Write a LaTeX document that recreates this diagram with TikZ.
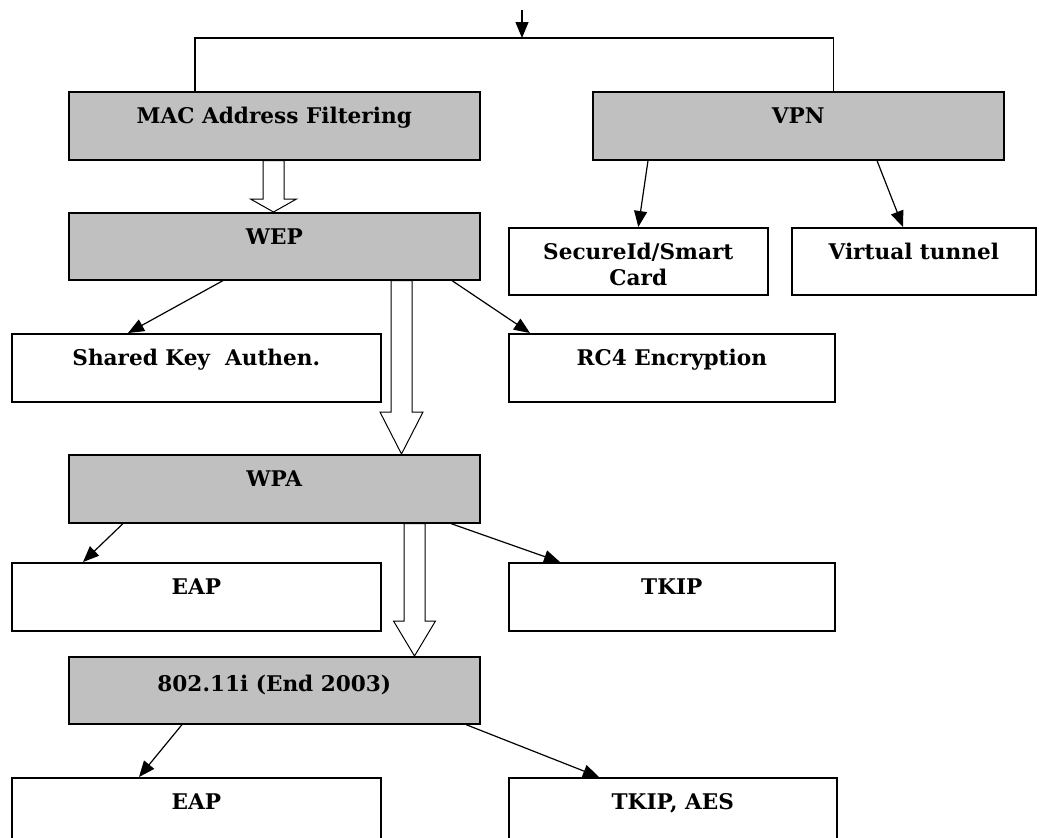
\documentclass[tikz,border=0pt]{standalone}
\usepackage{fontspec}
\setmainfont{DejaVu Serif}
\usetikzlibrary{arrows.meta, calc}
\definecolor{boxgray}{HTML}{C0C0C0}

% hollow block arrow: from node, to node, x coordinate, shaft half, head half, head length
\newcommand{\hollowarrow}[6]{%
  \draw[hollow] let \p1=(#1.south -| #3), \p2=(#2.north -| #3) in
    (\x1-#4,\y1) -- (\x1-#4,\y2+#6) -- (\x1-#5,\y2+#6) -- (\p2)
    -- (\x1+#5,\y2+#6) -- (\x1+#4,\y2+#6) -- (\x1+#4,\y1) -- cycle;}

\begin{document}
\begin{tikzpicture}[x=0.5pt, y=-0.5pt,
      box/.style={draw, line width=0.8pt, anchor=north west, inner xsep=0pt,
                  inner ysep=0pt, text height=15.75pt, text depth=18.25pt,
                  align=center, font=\bfseries\fontsize{10.8}{13}\selectfont},
      gbox/.style={box, fill=boxgray},
      arr/.style={-{Triangle[length=8pt, width=6.5pt]}, line width=0.6pt},
      hollow/.style={draw, fill=white, line width=0.5pt, line join=miter},
    ]
    \useasboundingbox[fill=white] (0,0) rectangle (1039,837);

    % -- top row --
    \node[gbox, minimum width=205.5pt] (mac) at (68,91) {MAC Address Filtering};
    \node[gbox, minimum width=205.5pt] (vpn) at (592,91) {VPN};
    \coordinate (in) at (522,10);
    \coordinate (split) at (522,38);
    \draw[arr] (in) -- (split);
    \draw[line width=0.6pt] (split) -| ([xshift=63.5pt]mac.north west);
    \draw[line width=0.6pt] (split) -| ([xshift=17.75pt]vpn.north);

    % -- VPN branch --
    \node[box, minimum width=129.5pt, text height=28.75pt, text depth=4.75pt]
          (secure) at (508,227) {SecureId/Smart\\ Card};
    \node[box, minimum width=122pt, text depth=17.75pt] (tunnel) at (791,227) {Virtual tunnel};
    \draw[arr] ([xshift=28pt]vpn.south west) -- (secure.north);
    \draw[arr] ([xshift=142.5pt]vpn.south west) -- ([xshift=56pt]tunnel.north west);

    % -- WEP --
    \node[gbox, minimum width=205.5pt, text depth=17.75pt] (wep) at (68,212) {WEP};
    \coordinate (c1) at (273.5,0);
    \hollowarrow{mac}{wep}{c1}{5.25pt}{11.5pt}{6.5pt}
    \node[box, minimum width=184.5pt] (shared) at (11,333) {Shared Key~ Authen.};
    \node[box, minimum width=163pt] (rc4) at (508,333) {RC4 Encryption};
    \draw[arr] ([xshift=77.5pt]wep.south west) -- ([xshift=58.5pt]shared.north west);
    \draw[arr] ([xshift=192pt]wep.south west) -- ([xshift=11pt]rc4.north west);

    % -- WPA --
    \node[gbox, minimum width=205.5pt] (wpa) at (68,454) {WPA};
    \coordinate (c2) at (401.5,0);
    \hollowarrow{wep}{wpa}{c2}{5.25pt}{10.75pt}{21pt}
    \node[box, minimum width=184.5pt] (eapa) at (11,562) {EAP};
    \node[box, minimum width=163pt] (tkip) at (508,562) {TKIP};
    \draw[arr] ([xshift=27.5pt]wpa.south west) -- ([xshift=36pt]eapa.north west);
    \draw[arr] ([xshift=191.5pt]wpa.south west) -- ([xshift=26pt]tkip.north west);

    % -- 802.11i --
    \node[gbox, minimum width=205.5pt, text height=17.25pt, text depth=16.25pt]
          (ieee) at (68,656) {802.11i (End 2003)};
    \coordinate (c3) at (414.5,0);
    \hollowarrow{wpa}{ieee}{c3}{5.25pt}{10.5pt}{17.5pt}
    \node[box, minimum width=184.5pt] (eapb) at (11,777) {EAP};
    \node[box, minimum width=164pt] (tkipaes) at (508,777) {TKIP, AES};
    \draw[arr] ([xshift=57pt]ieee.south west) -- ([xshift=64pt]eapb.north west);
    \draw[arr] ([xshift=199pt]ieee.south west) -- ([xshift=45.5pt]tkipaes.north west);
  \end{tikzpicture}
\end{document}
